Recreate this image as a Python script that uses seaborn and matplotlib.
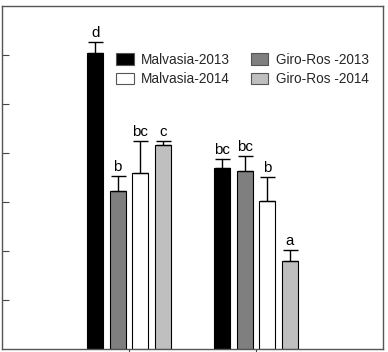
import matplotlib
matplotlib.use("Agg")
import matplotlib.pyplot as plt
import seaborn as sns
import pandas as pd
from matplotlib.patches import Patch

categories = ["Group 1", "Group 2"]
series = ["Malvasia-2013", "Giro-Ros -2013", "Malvasia-2014", "Giro-Ros -2014"]
m13 = [6.05, 3.70]
g13 = [3.23, 3.64]
m14 = [3.59, 3.02]
g14 = [4.16, 1.79]
m13_err = [0.21, 0.17]
g13_err = [0.31, 0.29]
m14_err = [0.65, 0.50]
g14_err = [0.09, 0.24]
m13_let = ["d", "bc"]
g13_let = ["b", "bc"]
m14_let = ["bc", "b"]
g14_let = ["c", "a"]

values = [m13, g13, m14, g14]
errors = [m13_err, g13_err, m14_err, g14_err]
letters = [m13_let, g13_let, m14_let, g14_let]
colors = ["#000000", "#7f7f7f", "#ffffff", "#bfbfbf"]

rows = []
for s, vals in zip(series, values):
    for c, v in zip(categories, vals):
        rows.append({"group": c, "series": s, "value": v})
df = pd.DataFrame(rows)

sns.set_style("white")
plt.rcParams["font.family"] = ["Liberation Sans", "DejaVu Sans"]

fig = plt.figure(figsize=(3.88, 3.52), dpi=100)
ax = fig.add_axes([0.005, 0.0085, 0.982, 0.9745])

sns.barplot(data=df, x="group", y="value", hue="series", order=categories,
            hue_order=series, palette=dict(zip(series, colors)),
            width=0.71, gap=0.29, errorbar=None, edgecolor="black",
            linewidth=0.8, legend=False, ax=ax)

bar_conts = list(ax.containers)
for si, cont in enumerate(bar_conts):
    for ci, bar in enumerate(cont.patches):
        xc = bar.get_x() + bar.get_width() / 2
        v = values[si][ci]
        e = errors[si][ci]
        ax.errorbar([xc], [v], yerr=[[0], [e]], fmt="none", ecolor="black",
                    elinewidth=1.0, capsize=5.4, capthick=1.0, zorder=3)
        ax.text(xc, v + e + 0.04, letters[si][ci], ha="center", va="bottom",
                fontsize=10.8, color="black")

ax.set_xlim(-1, 2)
ax.set_ylim(0, 7)
ax.set_yticks([1, 2, 3, 4, 5, 6])
ax.set_yticklabels([])
ax.set_xticks([0, 1])
ax.set_xticklabels([])
ax.set_xlabel("")
ax.set_ylabel("")
ax.tick_params(axis="y", direction="in", length=5, width=0.8, color="#444444", left=True)
ax.tick_params(axis="x", direction="out", length=3, width=0.8, color="#444444", bottom=True)
for sp in ax.spines.values():
    sp.set_visible(True)
    sp.set_color("#555555")
    sp.set_linewidth(1.0)

legend_order = [0, 2, 1, 3]
handles = [Patch(facecolor=colors[i], edgecolor="#555555", linewidth=0.8) for i in legend_order]
labels = [series[i] for i in legend_order]
ax.legend(handles, labels, ncol=2, loc="upper left", bbox_to_anchor=(0.282, 0.884),
          frameon=False, fontsize=9.8, handlelength=1.3, handleheight=0.9,
          handletextpad=0.55, columnspacing=1.5, labelspacing=0.42, borderpad=0)

fig.savefig("out.png", dpi=100)
